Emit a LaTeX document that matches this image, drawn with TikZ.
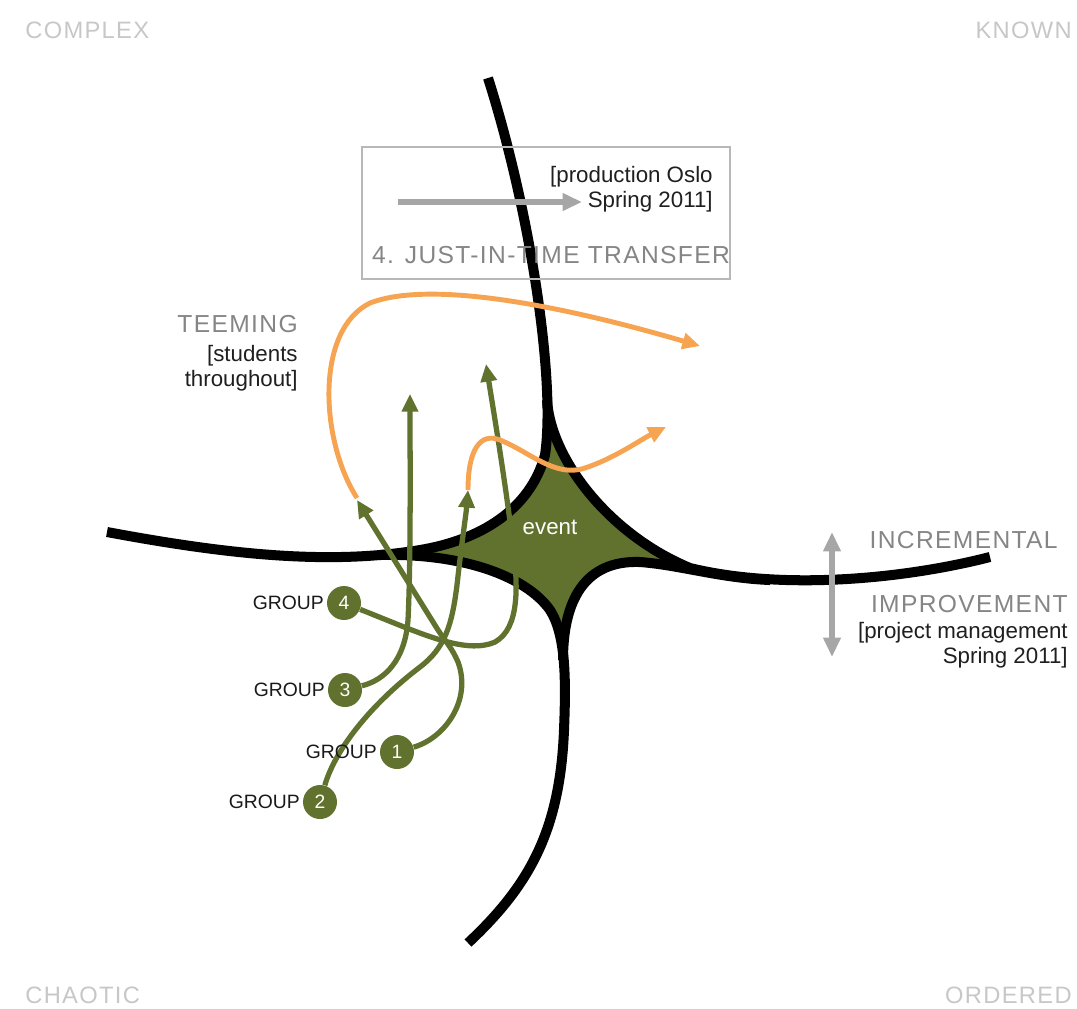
\documentclass[tikz,border=0pt]{standalone}
\usepackage{fontspec}
\setmainfont{Liberation Sans}
\newfontfamily\spacedfont[LetterSpace=5.5]{Liberation Sans}
\usetikzlibrary{positioning, arrows.meta}

\definecolor{moss}{RGB}{96,114,46}
\definecolor{tangerine}{RGB}{246,164,82}

\begin{document}
\begin{tikzpicture}[
  x=0.02cm, y=-0.02cm,
  every node/.style={font=\fontsize{12.7}{14.2}\selectfont, inner sep=0pt},
  corner/.style  = {font=\spacedfont\fontsize{13.5}{15}\selectfont, text=black!22},
  heading/.style = {font=\spacedfont\fontsize{14}{16}\selectfont, text=black!48},
  note/.style    = {align=right, text=black!88},
  road/.style    = {line width=5.7pt, black},
  trail/.style   = {line width=3pt, moss, -{Triangle[length=10pt, width=9pt]}},
  flow/.style    = {line width=2.8pt, tangerine, -{Triangle[length=10pt, width=9pt]}},
  hint/.style    = {line width=3.4pt, black!35},
  team/.style    = {circle, fill=moss, minimum size=0.68cm, text=white, font=\fontsize{11}{12}\selectfont},
  tag/.style     = {font=\fontsize{11}{12}\selectfont, text=black!90},
]
  \useasboundingbox (0,0) rectangle (1077,1008);

  % quadrant names in the corners
  \node[corner, anchor=base west] (complex) at (25,38)    {COMPLEX};
  \node[corner, anchor=base east] (known)   at (1072,38)  {KNOWN};
  \node[corner, anchor=base west] (chaotic) at (25,1003)  {CHAOTIC};
  \node[corner, anchor=base east] (ordered) at (1072,1003) {ORDERED};

  % the event: filled star between the four roads
  \fill[moss] (547,400) .. controls (551,460) and (610,535) .. (690,568)
    -- (690,571) .. controls (665,565) .. (640,562) .. controls (585,560) and (563,600) .. (563,660)
    -- (550,610) .. controls (525,575) and (460,553) .. (380,555)
    -- (420,550) .. controls (480,540) and (530,510) .. (545,455) -- cycle;
  \draw[road] (488,78) .. controls (530,210) and (556,380) .. (545,455)
    .. controls (530,510) and (480,540) .. (420,550) .. controls (330,565) and (230,555) .. (107,532);
  \draw[road] (547,400) .. controls (551,460) and (610,535) .. (690,568)
    .. controls (780,590) and (900,580) .. (990,557);
  \draw[road] (380,555) .. controls (460,553) and (525,575) .. (550,610)
    .. controls (566,635) and (566,680) .. (564,730) .. controls (560,830) and (530,885) .. (468,943);
  \draw[road] (563,660) .. controls (563,600) and (585,560) .. (640,562)
    .. controls (680,565) and (720,578) .. (770,580);
  \node[text=white] (event) at (550,527) {event};

  % just-in-time transfer frame
  \node[draw=black!28, line width=0.8pt, minimum width=7.36cm, minimum height=2.64cm] (frame) at (546,213) {};
  \coordinate (push) at (398,202);
  \coordinate (land) at (582,202);
  \draw[hint, -{Triangle[length=11pt, width=9.5pt]}] (push) -- (land);
  \node[note, anchor=east] (prod) at (713,189) {[production Oslo\\Spring 2011]};
  \node[heading, anchor=base] (title) at (551,263) {4. JUST-IN-TIME TRANSFER};

  % teeming
  \node[heading, anchor=base east] (teem) at (298,332) {TEEMING};
  \node[note, anchor=east] (students) at (298,368) {[students\\throughout]};

  % incremental improvement
  \coordinate (upend)   at (832,532);
  \coordinate (downend) at (832,657);
  \draw[hint, {Triangle[length=11pt, width=9.5pt]}-{Triangle[length=11pt, width=9.5pt]}] (upend) -- (downend);
  \node[heading, anchor=base east] (incr) at (1058,548) {INCREMENTAL};
  \node[heading, anchor=base east] (impr) at (1068,612) {IMPROVEMENT};
  \node[note, anchor=east] (pm) at (1068,645) {[project management\\Spring 2011]};

  % groups
  \foreach \n/\x/\y in {4/344/603, 3/345/690, 1/397/752, 2/320/802}
    \node[team] (g\n) at (\x,\y) {\n};

  \draw[trail] (g4) .. controls (420,633) and (465,655) .. (495,642)
    .. controls (520,628) and (518,585) .. (513,545) .. controls (505,480) and (495,420) .. (486,364);
  \draw[trail] (g3) .. controls (385,680) and (405,660) .. (408,620)
    .. controls (411,560) and (410,450) .. (410,394);
  \draw[trail] (g1) .. controls (445,738) and (472,700) .. (458,662)
    .. controls (452,648) and (446,642) .. (438,630) -- (357,500);
  \draw[trail] (g2) .. controls (335,750) and (370,705) .. (420,667)
    .. controls (445,648) and (452,625) .. (457,585) .. controls (462,540) and (466,515) .. (468,490);

  % orange flows
  \draw[flow] (357,498) .. controls (320,440) and (315,330) .. (370,303)
    .. controls (430,280) and (560,305) .. (700,346);
  \draw[flow] (468,490) .. controls (468,450) and (480,432) .. (500,440)
    .. controls (530,452) and (555,478) .. (585,468) .. controls (615,458) and (640,440) .. (666,427);

  \foreach \n in {1,...,4}
    \node[tag, left=1.5pt of g\n] (l\n) {GROUP};
\end{tikzpicture}
\end{document}
